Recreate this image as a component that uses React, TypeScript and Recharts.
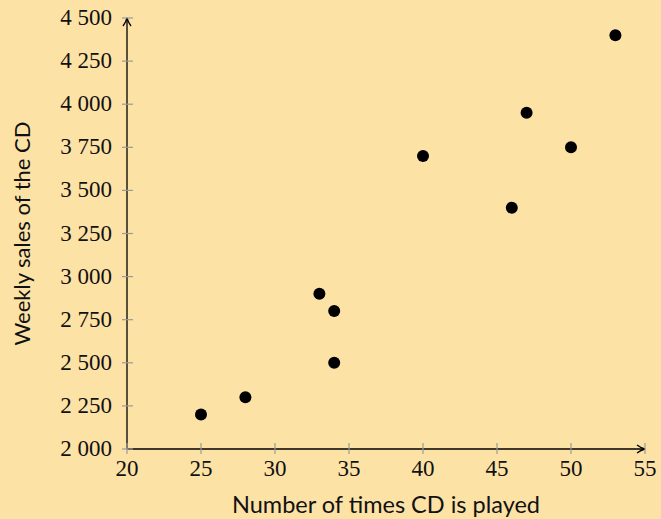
import { Scatter, ScatterChart, XAxis, YAxis } from "recharts";

const BG = "#fde2a6";
const TICK_GREY = "#9a9a9a";

const timesPlayed = [25, 28, 33, 34, 34, 40, 46, 47, 50, 53];
const weeklySales = [2200, 2300, 2900, 2800, 2500, 3700, 3400, 3950, 3750, 4400];
const xTicks = [20, 25, 30, 35, 40, 45, 50, 55];
const yTicks = [2000, 2250, 2500, 2750, 3000, 3250, 3500, 3750, 4000, 4250, 4500];

const points = timesPlayed.map((t, i) => ({ x: t, y: weeklySales[i] }));

const fmt = (v: number) => {
  const s = String(v);
  return s.length > 3 ? s.slice(0, s.length - 3) + " " + s.slice(-3) : s;
};

const serif = "Liberation Serif";
const sans = "Lato";

function YTick({ x, y, payload }: any) {
  return (
    <g>
      <line x1={x - 5} x2={x + 6} y1={y} y2={y} stroke={TICK_GREY} strokeWidth={1.2} />
      <text x={x - 15} y={y} dy={7} textAnchor="end" fontFamily={serif} fontSize={23} fill="#111">
        {fmt(payload.value)}
      </text>
    </g>
  );
}

function XTick({ x, y, payload }: any) {
  return (
    <g>
      <line x1={x} x2={x} y1={y - 6} y2={y + 5} stroke={TICK_GREY} strokeWidth={1.2} />
      <text x={x} y={y + 27} textAnchor="middle" fontFamily={serif} fontSize={23} fill="#111">
        {fmt(payload.value)}
      </text>
    </g>
  );
}

function Dot({ cx, cy }: any) {
  return <circle cx={cx} cy={cy} r={6} fill="#000" />;
}

export default function App() {
  return (
    <div style={{ position: "fixed", left: 0, top: 0, width: 661, height: 519, background: BG }}>
      <svg width={0} height={0} style={{ position: "absolute" }}>
        <defs>
          <marker id="arrowEnd" viewBox="0 0 10 10" refX={9} refY={5} markerWidth={10} markerHeight={10} markerUnits="userSpaceOnUse" orient="auto">
            <path d="M1,1 Q5,4 9,5 Q5,6 1,9" fill="none" stroke="#000" strokeWidth={1.3} />
          </marker>
          <marker id="arrowStart" viewBox="0 0 10 10" refX={1} refY={5} markerWidth={10} markerHeight={10} markerUnits="userSpaceOnUse" orient="auto">
            <path d="M9,1 Q5,4 1,5 Q5,6 9,9" fill="none" stroke="#000" strokeWidth={1.3} />
          </marker>
        </defs>
      </svg>
      <ScatterChart width={661} height={519} margin={{ top: 18, right: 16, bottom: 0, left: 0 }}>
        <XAxis
          type="number"
          dataKey="x"
          domain={[20, 55]}
          ticks={xTicks}
          height={70}
          tickSize={0}
          tickMargin={0}
          tick={(p: any) => <XTick {...p} />}
          axisLine={{ stroke: "#000", strokeWidth: 1.3, markerEnd: "url(#arrowEnd)" } as any}
          label={{ value: "Number of times CD is played", position: "insideBottom", offset: 6, style: { fontFamily: sans, fontSize: 23.5 }, fill: "#111" }}
        />
        <YAxis
          type="number"
          dataKey="y"
          domain={[2000, 4500]}
          ticks={yTicks}
          width={127}
          tickSize={0}
          tickMargin={0}
          tick={(p: any) => <YTick {...p} />}
          axisLine={{ stroke: "#000", strokeWidth: 1.3, markerStart: "url(#arrowStart)" } as any}
          label={{ value: "Weekly sales of the CD", angle: -90, position: "insideLeft", offset: 22, style: { textAnchor: "middle", fontFamily: sans, fontSize: 22 }, fill: "#111" }}
        />
        <Scatter data={points} fill="#000" shape={<Dot />} isAnimationActive={false} />
      </ScatterChart>
    </div>
  );
}
